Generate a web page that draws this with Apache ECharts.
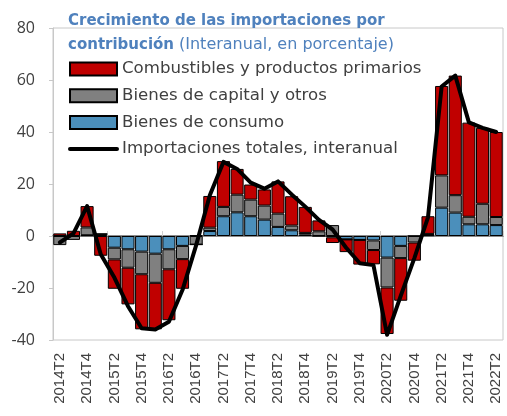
<!DOCTYPE html>
<html>
<head>
<meta charset="utf-8">
<script src="https://cdn.jsdelivr.net/npm/echarts@6/dist/echarts.min.js"></script>
<style>
  html, body { margin: 0; padding: 0; background: #fff; }
  #myChart { width: 507px; height: 416px; }
</style>
</head>
<body>
<div id="myChart"></div>
<script>
// trimestres
var categorias = ['2014T2','2014T3','2014T4','2015T1','2015T2','2015T3','2015T4','2016T1','2016T2','2016T3','2016T4',
  '2017T1','2017T2','2017T3','2017T4','2018T1','2018T2','2018T3','2018T4','2019T1','2019T2','2019T3','2019T4',
  '2020T1','2020T2','2020T3','2020T4','2021T1','2021T2','2021T3','2021T4','2022T1','2022T2'];

// contribuciones (puntos porcentuales)
var consumo = [0, 0, 0.3, 0.8, -4.5, -5.1, -6.0, -6.8, -5.1, -3.8, 0.3,
  1.9, 7.6, 9.1, 7.6, 6.3, 3.5, 2.2, 0.6, 0, -0.5, -1.3, -1.5,
  -1.7, -8.3, -3.8, 0, 0.3, 10.9, 9.0, 4.5, 4.5, 4.2];
var capital = [-3.5, -1.5, 3.0, 0, -4.5, -7.1, -8.7, -11.2, -7.7, -5.1, -3.3,
  1.3, 3.6, 6.8, 6.4, 5.4, 5.1, 1.8, 0.6, 1.8, 4.2, 0, 0,
  -3.7, -11.5, -4.7, -2.5, 0.5, 12.4, 6.7, 2.9, 7.9, 3.1];
var combustibles = [1.0, 2.0, 8.2, -7.6, -11.3, -14.1, -21.2, -17.9, -19.6, -11.4, 0,
  12.2, 17.6, 9.9, 5.8, 6.2, 12.4, 11.3, 10.0, 4.2, -2.2, -4.9, -9.5,
  -5.5, -17.9, -16.4, -7.0, 6.8, 34.4, 46.0, 36.2, 29.2, 32.7];
// total interanual
var total = [-2.5, 1.0, 11.5, -7, -16, -27, -35.5, -36, -33, -20.7, -3.5,
  15.7, 28.5, 25.8, 20.5, 18.2, 21, 16, 11.3, 6.2, 2.5, -4.5, -10.5,
  -11.2, -38, -23, -8.5, 7.2, 57.5, 61.7, 43.7, 41.6, 40];

var yTicks = { min: -40, max: 80, step: 20 };

var azul = '#4b8fbb';
var gris = '#808080';
var rojo = '#c00000';
var tituloColor = '#4f81bd';
var texto = '#404040';

var myChart = echarts.init(document.getElementById('myChart'));

function barra(nombre, datos, color) {
  return {
    name: nombre,
    type: 'bar',
    stack: 'contrib',
    stackStrategy: 'samesign',
    data: datos,
    barCategoryGap: '4%',
    itemStyle: { color: color, borderColor: '#000', borderWidth: 1 }
  };
}

myChart.setOption({
  animation: false,
  title: {
    left: 68,
    top: 9,
    padding: 0,
    text: '{b|Crecimiento de las importaciones por}\n{b|contribución} {n|(Interanual, en porcentaje)}',
    textStyle: {
      fontWeight: 'normal',
      lineHeight: 24,
      rich: {
        b: { fontFamily: 'DejaVu Sans', fontWeight: 'bold', fontSize: 15, color: tituloColor, lineHeight: 24 },
        n: { fontFamily: 'DejaVu Sans', fontWeight: 'normal', fontSize: 16, color: tituloColor, lineHeight: 24 }
      }
    }
  },
  legend: {
    orient: 'vertical',
    left: 68,
    top: 60.5,
    padding: 0,
    itemWidth: 47,
    itemHeight: 13,
    itemGap: 9.7,
    data: [
      { name: 'Combustibles y productos primarios', icon: 'rect' },
      { name: 'Bienes de capital y otros', icon: 'rect' },
      { name: 'Bienes de consumo', icon: 'rect' },
      { name: 'Importaciones totales, interanual', itemStyle: { opacity: 0 }, lineStyle: { width: 4, cap: 'round' } }
    ],
    textStyle: { fontFamily: 'DejaVu Sans', fontSize: 16.6, lineHeight: 17, color: texto }
  },
  grid: {
    left: 53, right: 4, top: 28, bottom: 76,
    show: true, borderColor: '#c8c8c8', borderWidth: 1
  },
  xAxis: [
    {
      type: 'category',
      data: categorias,
      position: 'bottom',
      axisLine: { show: false, onZero: false },
      axisTick: { show: false },
      axisLabel: {
        interval: 1,
        rotate: 90,
        margin: 13,
        fontFamily: 'Liberation Sans',
        fontSize: 15,
        color: texto
      }
    },
    {
      // eje en cero
      type: 'category',
      data: categorias,
      position: 'top',
      axisLine: { onZero: true, lineStyle: { color: '#8c8c8c', width: 2 } },
      axisTick: { show: true, length: 5, lineStyle: { color: '#d0d0d0' } },
      axisLabel: { show: false }
    }
  ],
  yAxis: {
    type: 'value',
    min: yTicks.min,
    max: yTicks.max,
    interval: yTicks.step,
    axisLine: { show: true, lineStyle: { color: '#c8c8c8' } },
    axisTick: { show: true, length: 4, lineStyle: { color: '#c8c8c8' } },
    splitLine: { show: false },
    axisLabel: { margin: 18, fontFamily: 'Open Sans', fontSize: 16, color: texto }
  },
  series: [
    barra('Bienes de consumo', consumo, azul),
    barra('Bienes de capital y otros', capital, gris),
    barra('Combustibles y productos primarios', combustibles, rojo),
    {
      name: 'Importaciones totales, interanual',
      type: 'line',
      data: total,
      symbol: 'none',
      z: 5,
      lineStyle: { color: '#000', width: 4, join: 'round', cap: 'round' },
      itemStyle: { color: '#000' }
    }
  ]
});
</script>
</body>
</html>
